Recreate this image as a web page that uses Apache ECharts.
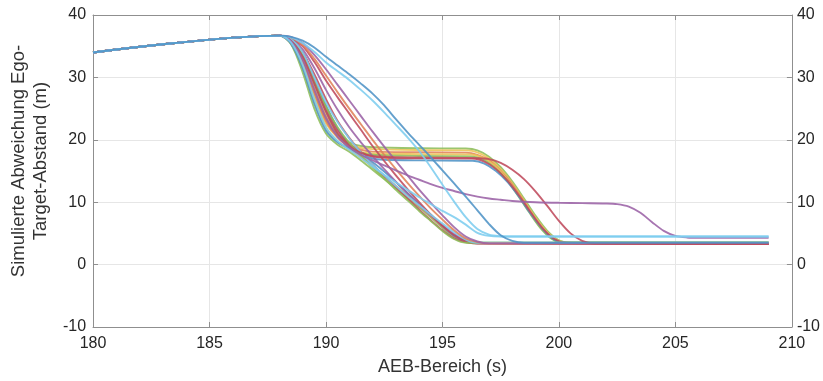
<!DOCTYPE html>
<html>
<head>
<meta charset="utf-8">
<script src="https://cdn.jsdelivr.net/npm/echarts@6/dist/echarts.min.js"></script>
<style>html,body{margin:0;padding:0;background:#fff}#c{width:823px;height:381px}</style>
</head>
<body>
<div id="c"></div>
<script>
// ---- data ----
const xTicks = [180, 185, 190, 195, 200, 205, 210];
const yTicks = [-10, 0, 10, 20, 30, 40];
const commonStart = [[180, 34.0], [188, 36.7]];

const pGreen = [[188.5,35.7],[189,32.5],[189.5,27.5],[190,23.2],[190.5,20.8],[191,19.6],[191.5,19],[192,18.8],[194,18.65],[196,18.6],[196.5,18.3],[197,17.3],[197.5,15.6],[198,13.3],[198.5,10.6],[199,7.8],[199.5,5.4],[200,3.9],[200.5,3.5],[209,3.5]];
const pYellow = [[188.5,35.5],[189,32],[189.5,26.8],[190,22.6],[190.5,20.4],[191,19.3],[191.5,18.7],[192,18.5],[194,18.35],[196,18.3],[196.5,18],[197,17],[197.5,15.3],[198,13],[198.5,10.3],[199,7.5],[199.5,5.2],[200,3.8],[200.5,3.5],[209,3.45]];
const pOrange = [[188.5,35.8],[189,33],[189.5,28.3],[190,23.8],[190.5,20.8],[191,19.2],[191.5,18.4],[192,18.1],[194,18.0],[196,17.95],[196.5,17.6],[197,16.7],[197.5,15],[198,12.8],[198.5,10.1],[199,7.3],[199.5,5],[200,3.7],[200.5,3.45],[209,3.4]];
const pYellow2 = [[188.5,35.4],[189,31.5],[189.5,26],[190,21.8],[190.5,19.6],[191,18.6],[191.5,18],[192,17.8],[194,17.7],[196.2,17.65],[196.7,17.2],[197.2,16],[197.7,14],[198.2,11.5],[198.7,8.7],[199.2,6],[199.7,4.2],[200.2,3.5],[209,3.45]];
const pGreen2 = [[188.5,35.9],[189,33.5],[189.5,29],[190,24.5],[190.5,21],[191,19],[191.5,18],[192,17.6],[194,17.4],[196.2,17.35],[196.7,16.9],[197.2,15.7],[197.7,13.8],[198.2,11.3],[198.7,8.5],[199.2,5.9],[199.7,4.1],[200.2,3.5],[209,3.5]];
const pBlue = [[188.5,36.1],[189,34],[189.5,30],[190,25.5],[190.5,21.8],[191,19.3],[191.5,17.8],[192,17],[192.5,16.8],[194,16.7],[196.3,16.65],[196.8,16.2],[197.3,15],[197.8,13.2],[198.3,10.8],[198.8,8.1],[199.3,5.7],[199.8,4],[200.3,3.5],[209,3.5]];
const pRed = [[188.5,36],[189,33.8],[189.5,29.5],[190,25],[190.5,21.5],[191,19.3],[191.5,18],[192,17.3],[193,17.05],[196.3,17],[196.8,16.5],[197.3,15.3],[197.8,13.4],[198.3,11],[198.8,8.3],[199.3,5.8],[199.8,4.1],[200.3,3.5],[209,3.3]];

const f1Green = [[188.5,35.3],[189,30.8],[189.5,25],[190,21],[190.5,19.2],[191,18.1],[191.5,16.7],[192,15.2],[192.5,13.7],[193,12.2],[193.5,10.7],[194,9.2],[194.5,7.6],[195,5.9],[195.5,4.3],[196,3.6],[196.5,3.5],[209,3.5]];
const f2Yellow = [[188.5,35.5],[189,31.8],[189.5,26.3],[190,21.9],[190.5,19.7],[191,18.4],[191.5,17.1],[192,15.6],[192.5,14.1],[193,12.6],[193.5,11.1],[194,9.6],[194.5,8.0],[195,6.3],[195.5,4.5],[196,3.6],[196.5,3.4],[209,3.4]];
const f3Orange = [[188.5,35.7],[189,32.6],[189.5,27.5],[190,23],[190.5,20.4],[191,18.7],[191.5,17.3],[192,15.8],[192.5,14.2],[193,12.6],[193.5,11],[194,9.4],[194.5,7.8],[195,6.1],[195.5,4.6],[196,3.7],[196.5,3.4],[209,3.4]];
const f4Blue = [[188.5,35.4],[189,31.5],[189.5,25.8],[190,21.5],[190.5,19.6],[191,18.6],[191.5,17.6],[192,16.4],[192.5,14.9],[193,13.2],[193.5,11.5],[194,9.7],[194.5,8.0],[195,6.2],[195.5,4.6],[196,3.7],[196.5,3.4],[209,3.4]];
const f5Red = [[188.5,36],[189,34],[189.5,30.5],[190,26.5],[190.5,23],[191,20.3],[191.5,18],[192,16],[192.5,14.2],[193,12.4],[193.5,10.6],[194,8.8],[194.5,7.1],[195,5.5],[195.5,4.2],[196,3.6],[196.5,3.4],[209,3.3]];
const f6Purple = [[188.5,36.2],[189,34.5],[189.5,31.5],[190,28],[190.5,24.8],[191,22],[191.5,19.6],[192,17.4],[192.5,15.3],[193,13.3],[193.5,11.4],[194,9.6],[194.5,7.9],[195,6.3],[195.5,4.9],[196,3.9],[196.5,3.5],[209,3.4]];
const f7Red = [[188.5,36.3],[189,35],[189.5,32.5],[190,29.5],[190.5,26.8],[191,24.2],[191.5,21.6],[192,19],[192.5,16.6],[193,14.3],[193.5,12.1],[194,10],[194.5,8],[195,6.2],[195.5,4.7],[196,3.8],[196.5,3.4],[209,3.3]];
const f8Green = [[188.5,36],[189,33.6],[189.5,29.4],[190,25.3],[190.5,22],[191,19.5],[191.5,17.5],[192,15.6],[192.5,13.8],[193,12],[193.5,10.3],[194,8.6],[194.5,7],[195,5.4],[195.5,4.1],[196,3.5],[209,3.5]];
const f9Cyan = [[188.5,36.1],[189,34],[189.5,30],[190,26],[190.5,22.8],[191,20.2],[191.5,18],[192,16],[192.5,14.3],[193,12.6],[193.5,11],[194,9.5],[194.5,8],[195,6.6],[195.5,5.2],[196,4],[196.5,3.5],[209,3.5]];
const f10Orange = [[188.5,36.4],[189,35.2],[189.5,33],[190,30.3],[190.5,27.6],[191,25],[191.5,22.5],[192,20],[192.5,17.6],[193,15.3],[193.5,13.1],[194,11],[194.5,9],[195,7.2],[195.5,5.5],[196,4.2],[196.5,3.6],[197,3.4],[209,3.4]];
const f11Purple = [[188.5,36.5],[189,35.5],[189.5,33.6],[190,31.3],[190.5,28.8],[191,26.3],[191.5,23.8],[192,21.3],[192.5,18.9],[193,16.6],[193.5,14.3],[194,12],[194.5,9.9],[195,7.9],[195.5,6],[196,4.5],[196.5,3.7],[197,3.4],[209,3.4]];

const redLate = [[188.5,35.9],[189,33.3],[189.5,29],[190,24.5],[190.5,21],[191,19],[191.5,17.9],[192,17.4],[193,17.2],[196,17.1],[196.5,17.05],[197,16.9],[197.5,16.3],[198,15.2],[198.5,13.7],[199,11.7],[199.5,9.4],[200,7],[200.5,5],[201,3.8],[201.5,3.4],[209,3.3]];
const purpleLong = [[188.5,35.8],[189,32.8],[189.5,28],[190,23.5],[190.5,20.5],[191,18.8],[191.5,17.6],[192,16.7],[192.5,15.9],[193,15.1],[193.5,14.3],[194,13.6],[194.5,12.9],[195,12.3],[195.5,11.8],[196,11.3],[196.5,10.9],[197,10.6],[197.5,10.4],[198,10.2],[199,10.0],[200,9.9],[201,9.85],[202,9.8],[202.5,9.7],[203,9.3],[203.5,8.3],[204,6.8],[204.5,5.4],[205,4.6],[205.5,4.35],[206,4.3],[209,4.3]];
const cyanGentle = [[188.5,35.6],[189,32],[189.5,26.5],[190,22],[190.5,19.8],[191,18.4],[191.5,17.1],[192,15.7],[192.5,14.4],[193,13.2],[193.5,12],[194,10.8],[194.5,9.7],[195,8.6],[195.5,7.6],[196,6.4],[196.5,5.1],[197,4.6],[197.5,4.5],[209,4.5]];
const cyanSlow = [[188.5,36.4],[189,35.5],[189.5,34.1],[190,32.4],[190.5,31],[191,29.6],[191.5,28],[192,26.3],[192.5,24.4],[193,22.4],[193.5,20.4],[194,18.2],[194.5,15.6],[195,12.8],[195.5,10.1],[196,7.6],[196.5,5.7],[197,4.8],[197.5,4.55],[198,4.5],[209,4.5]];
const darkBlue = [[188.5,36.5],[189,35.9],[189.5,34.8],[190,33.3],[190.5,31.9],[191,30.5],[191.5,29],[192,27.4],[192.5,25.5],[193,23.3],[193.5,21.2],[194,19.2],[194.5,17.2],[195,15.1],[195.5,13],[196,10.9],[196.5,8.7],[197,6.5],[197.5,4.7],[198,3.8],[198.5,3.5],[209,3.5]];

// ---- styles ----
const C = {
  blue: '#4f93c6', orange: '#e0825a', yellow: '#ecc357', purple: '#9b62a6',
  green: '#8dbd5a', cyan: '#7dcdef', red: '#bf4a5c'
};
const curves = [
  [pGreen, C.green], [pYellow, C.yellow], [pOrange, C.orange], [pYellow2, C.yellow],
  [pGreen2, C.green], [pBlue, C.blue], [pRed, C.red],
  [f1Green, C.green], [f2Yellow, C.yellow], [f3Orange, C.orange], [f4Blue, C.blue],
  [f5Red, C.red], [f6Purple, C.purple], [f7Red, C.red], [f8Green, C.green],
  [f9Cyan, C.cyan], [f10Orange, C.orange], [f11Purple, C.purple],
  [redLate, C.red], [purpleLong, C.purple], [cyanGentle, C.cyan], [cyanSlow, C.cyan],
  [darkBlue, C.blue]
];

const chart = echarts.init(document.getElementById('c'), null, {renderer: 'canvas'});
const labelStyle = {fontFamily: 'Liberation Sans, Arial, sans-serif', fontSize: 16, color: '#262626'};
const axisLine = {show: true, onZero: false, lineStyle: {color: '#8f8f8f', width: 1}};
const tick = {show: true, inside: true, length: 5, lineStyle: {color: '#8f8f8f'}};

chart.setOption({
  animation: false,
  backgroundColor: '#fff',
  grid: {left: 93, right: 28, top: 15, bottom: 53, containLabel: false},
  xAxis: [{
    type: 'value', position: 'bottom', min: xTicks[0], max: xTicks[xTicks.length - 1], interval: 5,
    axisLine: axisLine, axisTick: tick,
    axisLabel: Object.assign({margin: 9}, labelStyle),
    splitLine: {show: true, lineStyle: {color: '#e6e6e6', width: 1}},
    name: 'AEB-Bereich (s)', nameLocation: 'middle', nameGap: 31,
    nameTextStyle: {fontFamily: 'Liberation Sans, Arial, sans-serif', fontSize: 18, color: '#333'}
  }, {
    type: 'value', position: 'top', min: xTicks[0], max: xTicks[xTicks.length - 1], interval: 5,
    axisLine: axisLine, axisTick: tick, axisLabel: {show: false}, splitLine: {show: false}
  }],
  yAxis: [{
    type: 'value', position: 'left', min: yTicks[0], max: yTicks[yTicks.length - 1], interval: 10,
    axisLine: axisLine, axisTick: tick,
    axisLabel: Object.assign({margin: 7}, labelStyle),
    splitLine: {show: true, lineStyle: {color: '#e6e6e6', width: 1}},
    name: 'Simulierte Abweichung Ego-\nTarget-Abstand (m)', nameLocation: 'middle', nameGap: 39, nameRotate: 90,
    nameTextStyle: {fontFamily: 'Liberation Sans, Arial, sans-serif', fontSize: 18.5, lineHeight: 22, color: '#333', padding: [0, 0, 0, 20]}
  }, {
    type: 'value', position: 'right', min: yTicks[0], max: yTicks[yTicks.length - 1], interval: 10,
    axisLine: axisLine, axisTick: tick,
    axisLabel: Object.assign({margin: 5}, labelStyle),
    splitLine: {show: false}
  }],
  series: curves.map(([pts, col]) => ({
    type: 'line', xAxisIndex: 0, yAxisIndex: 0,
    data: commonStart.concat(pts),
    showSymbol: false, smooth: 0.3,
    lineStyle: {color: col, width: 1.9, opacity: 0.88},
    itemStyle: {color: col}
  }))
});
</script>
</body>
</html>
